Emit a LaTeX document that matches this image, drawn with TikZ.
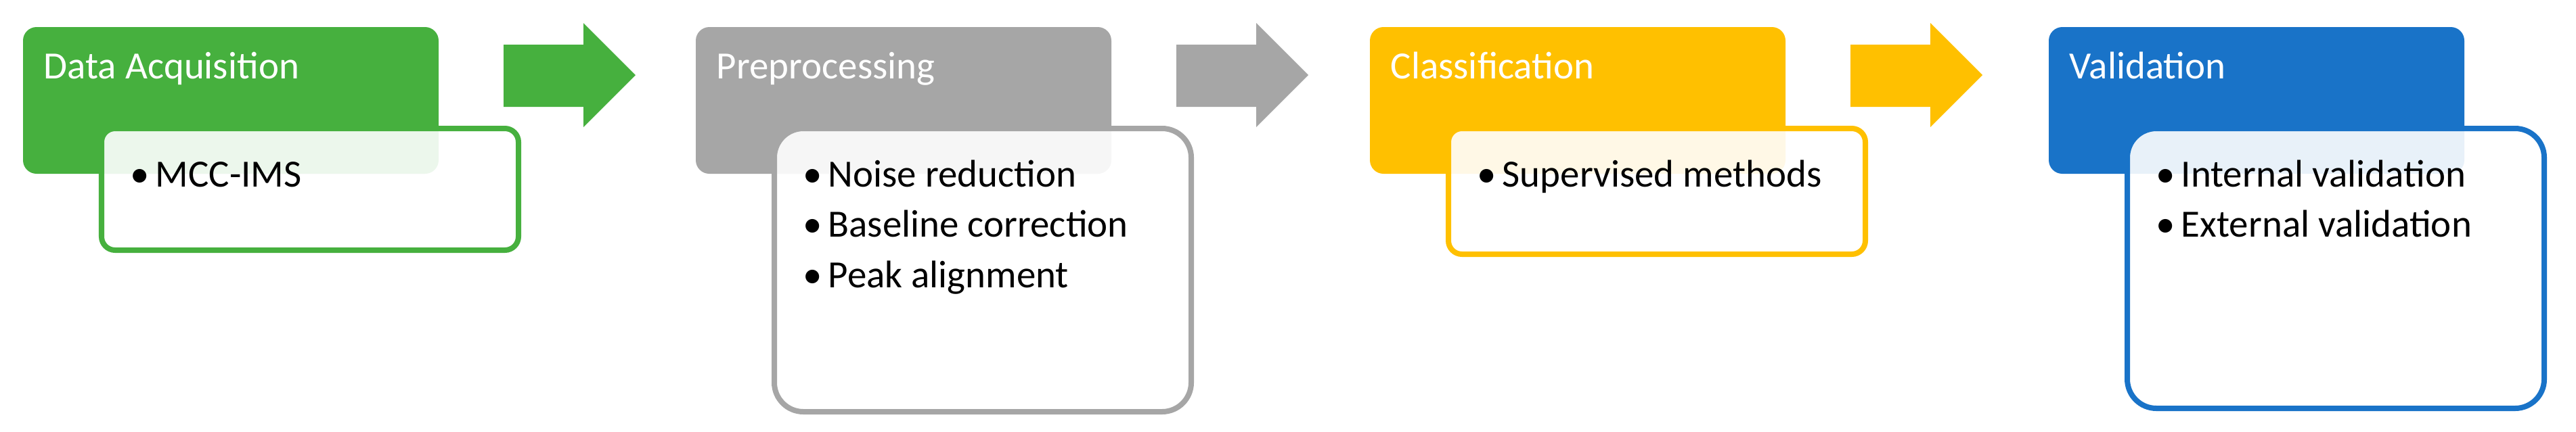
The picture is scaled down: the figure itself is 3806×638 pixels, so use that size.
\documentclass[tikz,border=0pt]{standalone}
\usepackage{fontspec}
\setmainfont{Carlito}
\usepackage{tikz}
\usetikzlibrary{positioning}
\tikzstyle{pixels} = [x = 0.01cm, y = -0.01cm]
\definecolor{acqColor}{RGB}{70,176,62}
\definecolor{preColor}{RGB}{166,166,166}
\definecolor{classColor}{RGB}{255,192,0}
\definecolor{valColor}{RGB}{25,115,200}
\newcommand{\stageFont}{\fontsize{16.2}{19}\selectfont}
\tikzstyle{headerStyle} = [rounded corners = .2cm]
\tikzstyle{detailStyle} = [fill=white, fill opacity=0.9, line width=.08cm]
\tikzstyle{headerText} = [font=\stageFont, text=white, anchor=base west, inner sep=0]
\tikzstyle{entryText} = [font=\stageFont, text=black, anchor=base west, inner sep=0]
\newcommand{\header}[4]{
  \fill [headerStyle, #2] (#1, 40) rectangle + (614, 217);
  \node [headerText] (#3-title) at (#1 + 30, 116) {#4};
}
\newcommand{\detailBox}[4]{\filldraw [detailStyle, draw=#2, rounded corners=#4] (#1 + 116, 190) rectangle (#1 + 732, #3);}
\newcommand{\entries}[3]{
  \foreach \entry [count=\n from 0] in {#3} {
    \node [entryText] (#2-entry\n) at (#1 + 158, 276 + 74.5 * \n) {\makebox[.37cm][l]{•}\entry};
  }
}
\newcommand{\stepArrow}[2]{\fill [#2] (#1 + 710, 66) -- (#1 + 828, 66) -- (#1 + 828, 34) -- (#1 + 905, 111) -- (#1 + 828, 188) -- (#1 + 828, 158) -- (#1 + 710, 158) -- cycle;}
\begin{document}
\begin{tikzpicture}[pixels]
        \useasboundingbox (0, 0) rectangle (3806, 638);
        \header{34}{acqColor}{acquisition}{Data Acquisition}
        \detailBox{34}{acqColor}{370}{.2cm}
        \entries{34}{acquisition}{MCC-IMS}
        \stepArrow{34}{acqColor}
        \header{1028}{preColor}{preprocessing}{Preprocessing}
        \detailBox{1028}{preColor}{609}{.43cm}
        \entries{1028}{preprocessing}{Noise reduction,Baseline correction,Peak alignment}
        \stepArrow{1028}{preColor}
        \header{2024}{classColor}{classification}{Classification}
        \detailBox{2024}{classColor}{376}{.2cm}
        \entries{2024}{classification}{Supervised methods}
        \stepArrow{2024}{classColor}
        \header{3027}{valColor}{validation}{Validation}
        \detailBox{3027}{valColor}{604}{.43cm}
        \entries{3027}{validation}{Internal validation,External validation}
      \end{tikzpicture}
\end{document}
